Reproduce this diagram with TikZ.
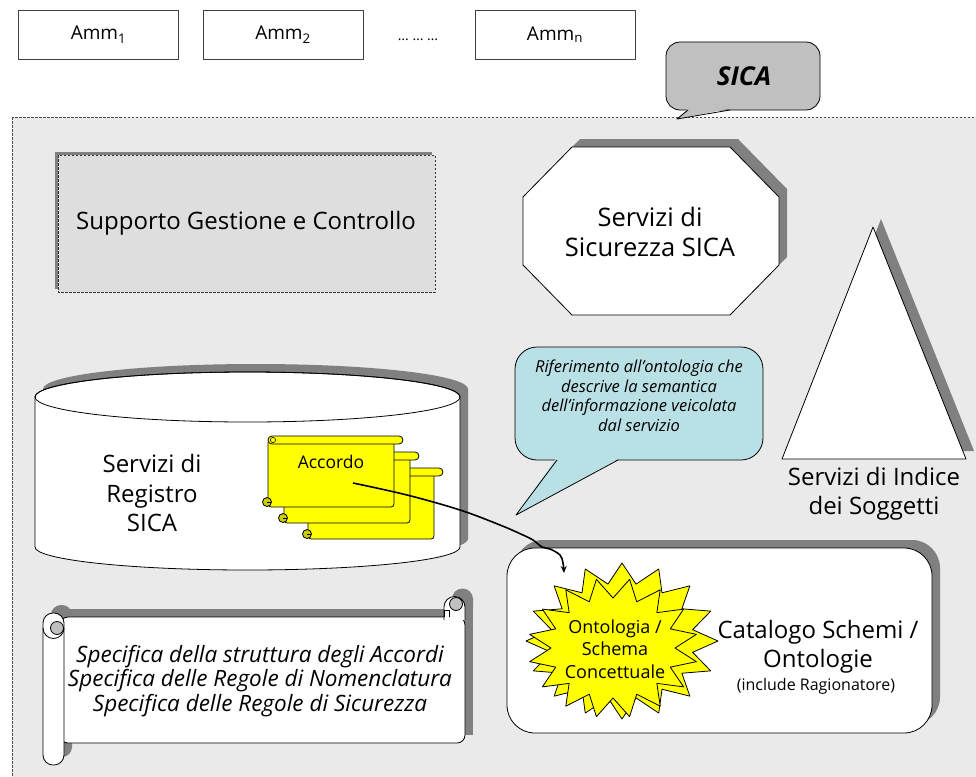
\documentclass[tikz,border=0pt]{standalone}
\usepackage{fontspec}
\setmainfont{Open Sans}
\usetikzlibrary{arrows.meta}
\definecolor{bgc}{HTML}{EAEAEA}
\definecolor{shd}{HTML}{808080}
\definecolor{teal1}{HTML}{B9E0E4}
\definecolor{calg}{HTML}{C0C0C0}
\definecolor{supg}{HTML}{DEDEDE}
\definecolor{yel}{HTML}{FFFF00}
\definecolor{curly}{HTML}{CCCC00}
\newcommand\accscroll[4]{%
  \draw[ol, fill=yel, rounded corners=3] (#1,#2+6) -- (#1,#4) -- (#3,#4) -- (#3,#2+6);
  \draw[ol, fill=yel, rounded corners=4] (#1,#2) rectangle (#3+9,#2+8);
  \draw[ol, line width=0.5pt] (#1+5,#2+4) circle[radius=2.6];
  \draw[ol, fill=curly] (#1-1,#4-5) circle[radius=4.5];
  \draw[line width=0.5pt] (#1-1,#4-5) -- (#1+3,#4-5);
}
\begin{document}
\begin{tikzpicture}[x=1pt,y=-1pt, line join=round,
  ol/.style={draw=black, line width=0.8pt},
  lbl/.style={align=center, font=\fontsize{24}{29.5}\selectfont, inner sep=0pt},
  ammbox/.style={draw=black!75, line width=0.8pt, fill=white, minimum width=160pt, minimum height=49pt, font=\fontsize{19}{22}\selectfont}]
\useasboundingbox (0,0) rectangle (976,776);
\fill[white] (0,0) rectangle (976,776);

% frame
\draw[draw=black!70, fill=bgc, line width=0.7pt, dash pattern=on 2.5pt off 1.5pt] (12,117) rectangle (990,790);

% Amm boxes
\node[ammbox] (amm1) at (98.5,34.5) {Amm\textsubscript{1}};
\node[ammbox] (amm2) at (283,34.5) {Amm\textsubscript{2}};
\node[font=\fontsize{14}{16}\selectfont] (dots) at (418,40) {… … …};
\node[ammbox] (ammn) at (555,34.5) {Amm\textsubscript{n}};

% SICA callout
\draw[ol, fill=calg, rounded corners=14] (666,42) rectangle (820,110);
\fill[calg] (688,108.5) -- (677,119) -- (730,108.5) -- cycle;
\draw[ol] (688,110) -- (677,119) -- (730,110);
\node[font=\bfseries\itshape\fontsize{26}{30}\selectfont] (sica) at (744,76) {SICA};

% Supporto
\fill[shd] (55,152) rectangle (432,289);
\draw[draw=black!80, fill=supg, line width=0.8pt, dash pattern=on 2.5pt off 1.5pt] (58,155) rectangle (435,292);
\node[lbl] (sup) at (246,223) {Supporto Gestione e Controllo};

% Octagon
\fill[shd, shift={(8,-8)}] (572,147)--(730,147)--(779,197)--(779,265)--(730,315)--(572,315)--(523,265)--(523,197)--cycle;
\draw[ol, fill=white] (572,147)--(730,147)--(779,197)--(779,265)--(730,315)--(572,315)--(523,265)--(523,197)--cycle;
\node[lbl, font=\fontsize{25.5}{30}\selectfont] (sic) at (650,232) {Servizi di\\Sicurezza SICA};

% Triangle
\fill[shd, shift={(8,-8)}] (873,227)--(966,459)--(782,459)--cycle;
\draw[ol, fill=white] (873,227)--(966,459)--(782,459)--cycle;
\node[lbl] (idx) at (874,494) {Servizi di Indice\\dei Soggetti};

% teal bubble
\draw[ol, fill=teal1, rounded corners=22] (515,347) rectangle (763,460);
\fill[teal1] (556,458.5)--(516,515)--(619,458.5)--cycle;
\draw[ol] (557,460)--(516,515)--(618,460);
\node[font=\itshape\fontsize{16.5}{19.5}\selectfont, align=center, inner sep=0pt] (rif) at (639,396) {Riferimento all’ontologia che\\descrive la semantica\\dell’informazione veicolata\\dal servizio};

% Cylinder
\fill[shd, shift={(8,-8)}] (35,397) -- (35,547) arc[start angle=180,end angle=0,x radius=212.5,y radius=23] -- (460,397) arc[start angle=0,end angle=-180,x radius=212.5,y radius=25] -- cycle;
\draw[ol, fill=white] (35,397) -- (35,547) arc[start angle=180,end angle=0,x radius=212.5,y radius=23] -- (460,397) arc[start angle=0,end angle=-180,x radius=212.5,y radius=25] -- cycle;
\draw[ol] (247.5,397) ellipse[x radius=212.5, y radius=25];
\node[lbl] (reg) at (152,493) {Servizi di\\Registro\\SICA};

% Accordo scrolls
\accscroll{308}{468}{434}{539}
\accscroll{284}{452}{410}{523}
\accscroll{268}{436}{394}{507}
\node[font=\fontsize{17.5}{20}\selectfont] (acc) at (331,462) {Accordo};

% Catalogo
\fill[shd, rounded corners=28] (515,540) rectangle (940,725);
\draw[ol, fill=white, rounded corners=28] (507,548) rectangle (932,733);
\node[lbl] (cat) at (818,647) {Catalogo Schemi /\\Ontologie};
\node[font=\fontsize{16}{18}\selectfont, inner sep=0pt] (rag) at (816,686) {(include Ragionatore)};

% stars
\draw[ol, fill=yel] plot[samples=33, domain=0:32, variable=\k] ({622+(84+12*cos(\k*180))*cos(\k*360/32)}, {641+(68+10*cos(\k*180))*sin(\k*360/32)}) -- cycle;
\draw[ol, fill=yel] plot[samples=33, domain=0:32, variable=\k] ({613+(73.5+11.5*cos(\k*180))*cos(\k*360/32+11.25)}, {648+(60+10*cos(\k*180))*sin(\k*360/32+11.25)}) -- cycle;
\node[font=\fontsize{18}{22.5}\selectfont, align=center, inner sep=0pt] (onto) at (615,649) {Ontologia /\\Schema\\Concettuale};

% arrow
\coordinate (accstart) at (353,483);
\coordinate (ontend) at (564,573);
\draw[line width=1.6pt, -{Stealth[length=7pt,width=6pt]}] plot[smooth, tension=0.6] coordinates {(accstart) (407,495) (460,510) (500,525) (523,535) (533,540) (542,547) (550,549) (560,555) (563,563) (ontend)};

% bottom scroll
\begin{scope}[shift={(8,-8)}]
\fill[shd] (60,617) rectangle (465,743);
\fill[shd] (444,617) -- (444,607) arc[start angle=180,end angle=360,radius=10.5] -- (465,617) -- cycle;
\fill[shd, rounded corners=10] (43,613) rectangle (64,765);
\end{scope}
\draw[ol, fill=white, rounded corners=8] (60,617) -- (60,743) -- (465,743) -- (465,617) -- cycle;
\draw[ol, fill=white] (444,620) -- (444,607) arc[start angle=180,end angle=360,radius=10.5] -- (465,620);
\draw[ol, fill=calg] (456,604) circle[radius=6.5];
\draw[ol, fill=white] (444,617) -- (444,610) -- (449.5,610) -- (449.5,617);
\draw[ol, fill=white, rounded corners=10] (43,613) rectangle (64,765);
\draw[ol, fill=calg] (57,628) circle[radius=6.5];
\draw[ol] (43,628) arc[start angle=180,end angle=0,radius=10.5];
\node[font=\itshape\fontsize{22.5}{24.5}\selectfont, align=center, inner sep=0pt] (spec) at (260,681) {Specifica della struttura degli Accordi\\Specifica delle Regole di Nomenclatura\\Specifica delle Regole di Sicurezza};
\end{tikzpicture}
\end{document}
